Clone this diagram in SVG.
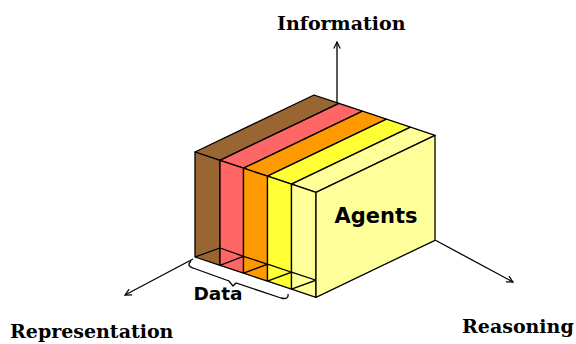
<svg xmlns="http://www.w3.org/2000/svg" width="576" height="344" viewBox="0 0 576 344">
<style>
.f{stroke:#000;stroke-width:1.3;stroke-linejoin:round}
.ln{stroke:#000;stroke-width:1.3;fill:none}
.lbl{font-family:"DejaVu Serif",serif;font-weight:bold;font-size:19px;fill:#000}
.in{font-family:"DejaVu Sans",sans-serif;font-weight:bold;fill:#000}
</style>
<defs>
<marker id="ah" viewBox="0 0 10 10" refX="9" refY="5" markerWidth="8" markerHeight="8" markerUnits="userSpaceOnUse" orient="auto">
<path d="M1,1 L9,5 L1,9" fill="none" stroke="#000" stroke-width="1.5"/>
</marker>
</defs>
<rect width="576" height="344" fill="#fff"/>
<g id="connectors">
<line class="ln" x1="337" y1="103" x2="337" y2="42" marker-end="url(#ah)"/>
<line class="ln" x1="193" y1="259" x2="125" y2="295" marker-end="url(#ah)"/>
<line class="ln" x1="435" y1="240" x2="513" y2="282" marker-end="url(#ah)"/>
</g>
<g id="slab-brown">
<polygon class="f" fill="#996633" points="195,152 220,160.3 339,103.3 314,95"/>
<polygon class="f" fill="#996633" points="195,152 220,160.3 220,265.3 195,257"/>
<polyline class="ln" points="195,257 220,248"/>
</g>
<g id="slab-pink">
<polygon class="f" fill="#ff6666" points="220,160.3 243.5,168.2 362.5,111.2 339,103.3"/>
<polygon class="f" fill="#ff6666" points="220,160.3 243.5,168.2 243.5,273.2 220,265.3"/>
<polyline class="ln" points="220,265.3 243.5,256.3 220,248"/>
</g>
<g id="slab-orange">
<polygon class="f" fill="#ff9900" points="243.5,168.2 267.5,176.2 386.5,119.2 362.5,111.2"/>
<polygon class="f" fill="#ff9900" points="243.5,168.2 267.5,176.2 267.5,281.2 243.5,273.2"/>
<polyline class="ln" points="243.5,273.2 267.5,264.2 243.5,256.3"/>
</g>
<g id="slab-yellow">
<polygon class="f" fill="#ffff33" points="267.5,176.2 291.5,184.2 410.5,127.2 386.5,119.2"/>
<polygon class="f" fill="#ffff33" points="267.5,176.2 291.5,184.2 291.5,289.2 267.5,281.2"/>
<polyline class="ln" points="267.5,281.2 291.5,272.2 267.5,264.2"/>
</g>
<g id="agents">
<polygon class="f" fill="#ffff99" points="291.5,184.2 316,192.3 435,135.3 410.5,127.2"/>
<polygon class="f" fill="#ffff99" points="291.5,184.2 316,192.3 316,297.3 291.5,289.2"/>
<polyline class="ln" points="291.5,289.2 316,280.2 291.5,272.2"/>
<polygon class="f" fill="#ffff99" points="316,192.3 435,135.3 435,240.3 316,297.3"/>
<text class="in" x="376" y="223" font-size="21" text-anchor="middle">Agents</text>
</g>
<g id="data">
<path class="ln" d="M191,261 Q186,266 193,268 L229,281 L233,286 L236,283 L281,298 Q289,300 288,294"/>
<text class="in" x="218" y="300" font-size="18.5" text-anchor="middle">Data</text>
</g>
<g id="labels">
<text class="lbl" x="277" y="30">Information</text>
<text class="lbl" x="10" y="338" font-size="19.5">Representation</text>
<text class="lbl" x="462" y="333">Reasoning</text>
</g>
</svg>
